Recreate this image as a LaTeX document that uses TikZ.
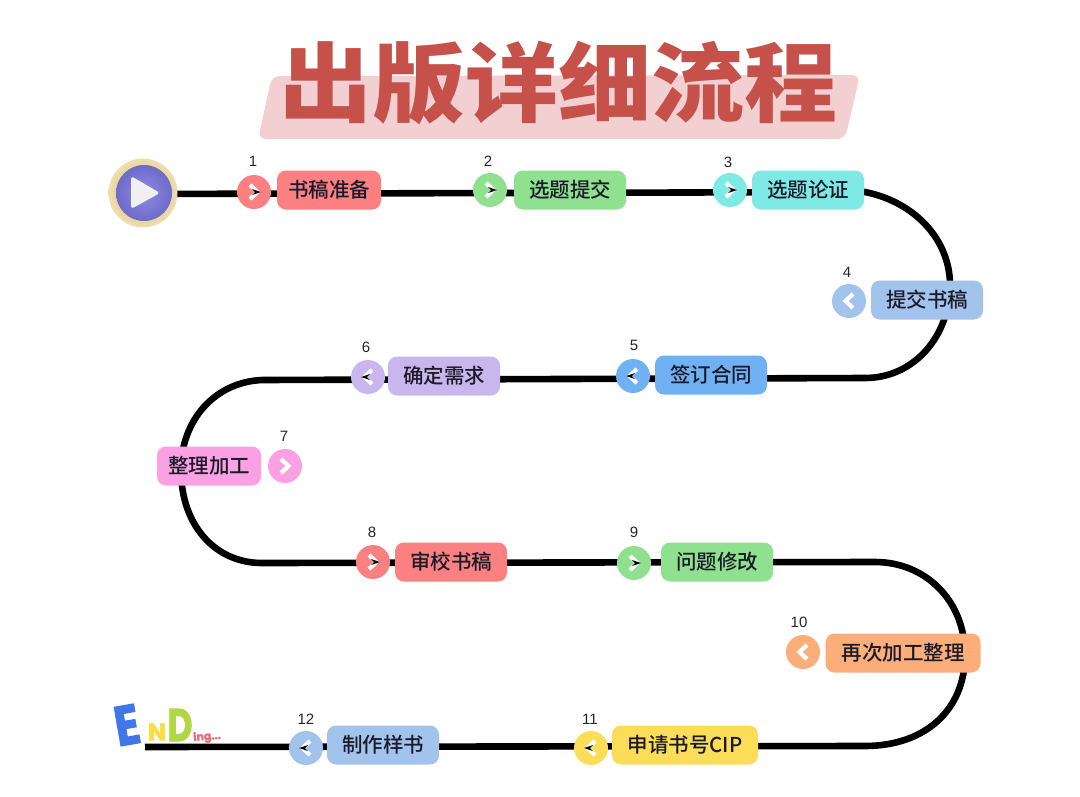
\documentclass[tikz,border=0pt]{standalone}
\usepackage{fontspec}
\setmainfont{Liberation Sans}
\newfontfamily\cjk{Noto Sans CJK SC}[UprightFont={* Medium}]
\newfontfamily\cjkfat{Noto Sans CJK SC}[UprightFont={* Black}]
\newfontfamily\endfont{Poppins}[UprightFont={* Bold},FakeBold=2]
\usetikzlibrary{calc}
\definecolor{cRed}{HTML}{FA8082}
\definecolor{cGreen}{HTML}{8FE08F}
\definecolor{cCyan}{HTML}{7FE9E6}
\definecolor{cBlue}{HTML}{A2C3EC}
\definecolor{cSky}{HTML}{6FB1F2}
\definecolor{cPurple}{HTML}{C9B6EC}
\definecolor{cPink}{HTML}{FBA0E2}
\definecolor{cOrange}{HTML}{FBAE7A}
\definecolor{cYellow}{HTML}{FBDD58}
\definecolor{titleRed}{HTML}{C5514A}
\definecolor{titleBg}{HTML}{F2D0D2}
\definecolor{inkText}{HTML}{1A1A2A}
\definecolor{ringIn}{HTML}{C8A868}
\definecolor{ringOut}{HTML}{EFE0B0}
\definecolor{playIn}{HTML}{8F8CE6}
\definecolor{playOut}{HTML}{6E6AC8}
\tikzset{
  x=1pt,y=-1pt,
  road/.style={line width=6.6pt,black,line cap=butt,line join=round},
  label box/.style={rounded corners=9pt,minimum height=39pt,inner sep=0pt,font=\cjk\fontsize{20.5}{22}\selectfont,text=inkText,anchor=center},
  badge/.style={circle,minimum size=34pt,inner sep=0pt},
  num/.style={font=\fontsize{15}{17}\selectfont,text=black!85,inner sep=0pt},
  chev/.style={white,line width=4.2pt,line cap=butt,line join=miter},
}
\newcommand{\chevR}[1]{\draw[chev] ($(#1)+(-4,-7)$) -- ($(#1)+(3.5,0)$) -- ($(#1)+(-4,7)$);}
\newcommand{\chevL}[1]{\draw[chev] ($(#1)+(4,-7)$) -- ($(#1)+(-3.5,0)$) -- ($(#1)+(4,7)$);}
\newcommand{\dotR}[1]{\fill[black] ($(#1)+(-2,-3)$) -- ($(#1)+(7,0)$) -- ($(#1)+(-2,3)$) -- ($(#1)+(1,0)$) -- cycle;}
\newcommand{\dotL}[1]{\fill[black] ($(#1)+(2,-3)$) -- ($(#1)+(-7,0)$) -- ($(#1)+(2,3)$) -- ($(#1)+(-1,0)$) -- cycle;}
\begin{document}
\begin{tikzpicture}
\useasboundingbox (0,0) rectangle (1080,796);
\fill[white] (0,0) rectangle (1080,796);
% title
\fill[titleBg,rounded corners=8pt] (272,76) -- (860,75) -- (845,139) -- (258,139) -- cycle;
\node[inner sep=0pt,text=titleRed,font=\cjkfat\fontsize{93}{96}\selectfont,yscale=0.93] (title) at (558,83) {出版详细流程};
% road
\coordinate (r0) at (143,194);
\coordinate (r1) at (865,192);
\coordinate (r2) at (950,285);
\coordinate (r3) at (865,378);
\coordinate (r4) at (262,380);
\coordinate (r5) at (181,470);
\coordinate (r6) at (262,563);
\coordinate (r7) at (875,562);
\coordinate (r8) at (965,655);
\coordinate (r9) at (865,746);
\coordinate (r10) at (145,747);
\draw[road] (r0) -- (r1)
  .. controls (915,202) and (950,240) .. (r2)
  .. controls (950,335) and (915,378) .. (r3)
  -- (r4)
  .. controls (215,382) and (181,420) .. (r5)
  .. controls (181,525) and (215,563) .. (r6)
  -- (r7)
  .. controls (925,562) and (965,600) .. (r8)
  .. controls (965,710) and (925,746) .. (r9)
  -- (r10);
% start button
\shade[inner color=ringIn,outer color=ringOut] (143,193) circle (34.5);
\node[circle,minimum size=56pt,inner sep=0pt,inner color=playIn,outer color=playOut] (play) at (144,193) {};
\fill[white!88!gray,rounded corners=3pt] (131,176) -- (160,193) -- (131,209) -- cycle;
% end logo
\node[text={rgb,255:red,64;green,118;blue,232},font=\endfont\fontsize{56}{56}\selectfont,rotate=10,xscale=0.82,inner sep=0pt] (endE) at (127,725) {E};
\node[text={rgb,255:red,250;green,222;blue,60},font=\endfont\fontsize{24}{24}\selectfont,inner sep=0pt] (endN) at (157,732) {N};
\node[text={rgb,255:red,175;green,215;blue,70},font=\endfont\fontsize{46}{46}\selectfont,xscale=0.75,inner sep=0pt] (endD) at (180,725) {D};
\node[text={rgb,255:red,238;green,105;blue,125},font=\endfont\fontsize{11}{11}\selectfont,rotate=5,inner sep=0pt] (endI) at (207,737) {ing...};
% steps
\foreach \n/\bx/\by/\col/\lx/\ly/\lw/\nx/\ny/\txt/\dir in {
 1/254/192/cRed/329/190/104/253/161/书稿准备/R,
 2/490/190/cGreen/570/190/112/488/161/选题提交/R,
 3/730/190/cCyan/808/190/112/728/162/选题论证/R,
 5/633/376/cSky/711/375/112/634/345/签订合同/L,
 6/368/377/cPurple/444/376/112/366/347/确定需求/L,
 8/373/562/cRed/451/562/112/372/532/审校书稿/R,
 9/634/563/cGreen/717/562/112/634/532/问题修改/R,
 11/591/748/cYellow/685/745/146/590/719/申请书号CIP/L,
 12/306/748/cBlue/383/745/112/306/719/制作样书/L}
{
  \node[badge,fill=\col] (b\n) at (\bx,\by) {};
  \node[label box,fill=\col,minimum width=\lw pt] (l\n) at (\lx,\ly) {\txt};
  \node[num] (n\n) at (\nx,\ny) {\n};
  \csname chev\dir\endcsname{b\n}
  \csname dot\dir\endcsname{b\n}
}
\foreach \n/\bx/\by/\col/\lx/\ly/\lw/\nx/\ny/\txt/\dir in {
 4/849/301/cBlue/927/300/112/847/272/提交书稿/L,
 7/285/466/cPink/209/466/104/284/436/整理加工/R,
 10/803/652/cOrange/903/653/155/799/622/再次加工整理/L}
{
  \node[badge,fill=\col] (b\n) at (\bx,\by) {};
  \node[label box,fill=\col,minimum width=\lw pt] (l\n) at (\lx,\ly) {\txt};
  \node[num] (n\n) at (\nx,\ny) {\n};
  \csname chev\dir\endcsname{b\n}
}
\end{tikzpicture}
\end{document}
